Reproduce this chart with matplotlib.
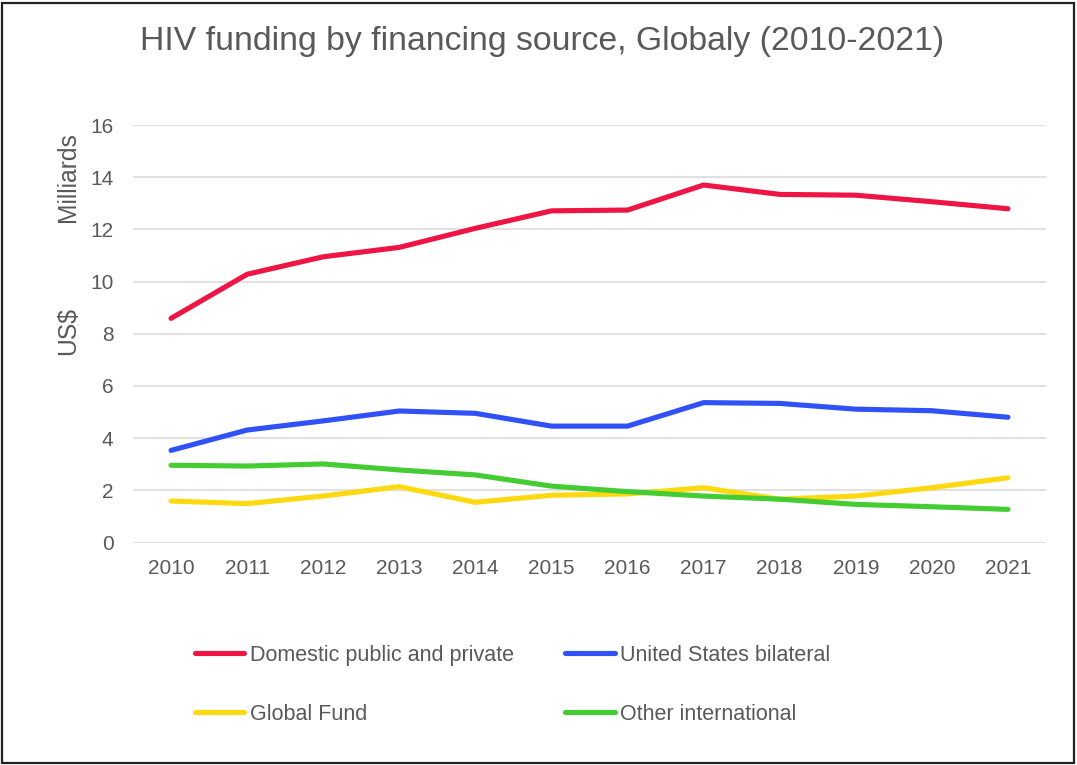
import matplotlib.pyplot as plt
from matplotlib.patches import Rectangle

# Financement VIH par source (milliards US$)
years = ['2010', '2011', '2012', '2013', '2014', '2015',
         '2016', '2017', '2018', '2019', '2020', '2021']
domestic = [8.59, 10.28, 10.95, 11.31, 12.04, 12.71, 12.74, 13.70, 13.34, 13.31, 13.06, 12.79]
us_bilateral = [3.53, 4.31, 4.66, 5.04, 4.95, 4.46, 4.46, 5.36, 5.33, 5.11, 5.05, 4.80]
global_fund = [1.59, 1.49, 1.78, 2.14, 1.54, 1.81, 1.86, 2.10, 1.66, 1.78, 2.10, 2.48]
other_intl = [2.96, 2.93, 3.01, 2.78, 2.59, 2.16, 1.95, 1.78, 1.66, 1.46, 1.37, 1.27]

series_labels = ['Domestic public and private', 'United States bilateral',
                 'Global Fund', 'Other international']
series_colors = ['#EE1443', '#3050F8', '#FFD90F', '#44CC33']

plt.rcParams['font.family'] = ['Liberation Sans', 'DejaVu Sans']
text_color = '#595959'

fig = plt.figure(figsize=(10.77, 7.65), dpi=100)
ax = fig.add_axes([133 / 1077, 1 - 542.5 / 765, 913 / 1077, 417.5 / 765])

x = list(range(len(years)))
lines = []
for values, label, color in zip([domestic, us_bilateral, global_fund, other_intl],
                                series_labels, series_colors):
    ln, = ax.plot(x, values, color=color, linewidth=3.7, label=label,
                  solid_capstyle='round', solid_joinstyle='round')
    lines.append(ln)

ax.set_xlim(-0.5, len(years) - 0.5)
ax.set_ylim(0, 16)
ax.set_yticks(range(0, 17, 2))
ax.set_xticks(x)
ax.set_xticklabels(years)
ax.grid(axis='y', color='#D9D9D9', linewidth=1.1)
ax.set_axisbelow(True)
for s in ax.spines.values():
    s.set_visible(False)
ax.tick_params(axis='y', length=0, pad=14, labelsize=15, labelcolor=text_color)
ax.tick_params(axis='x', length=0, pad=12, labelsize=15, labelcolor=text_color)

# Titre et libellés d'axe
fig.text(542 / 1077, 1 - 50 / 765, 'HIV funding by financing source, Globaly (2010-2021)',
         ha='center', va='baseline', fontsize=24.3, color=text_color)
fig.text(68 / 1077, 1 - 177 / 765, 'Milliards', rotation=90,
         ha='center', va='center', fontsize=17.8, color=text_color)
fig.text(68 / 1077, 1 - 331 / 765, 'US$', rotation=90,
         ha='center', va='center', fontsize=17.8, color=text_color)

# Légende sur deux colonnes (remplie colonne par colonne)
order = [0, 2, 1, 3]
leg = fig.legend(handles=[lines[i] for i in order],
                 labels=[series_labels[i] for i in order], ncol=2, frameon=False,
                 loc='upper left', bbox_to_anchor=(186 / 1077, 1 - 636 / 765),
                 fontsize=15.5, handlelength=2.3, handletextpad=0.25,
                 columnspacing=2.4, labelspacing=1.78, borderaxespad=0)
for t in leg.get_texts():
    t.set_color(text_color)

# Cadre autour du graphique
fig.patches.append(Rectangle((2 / 1077, 2 / 765), 1072 / 1077, 760 / 765,
                             transform=fig.transFigure, fill=False,
                             edgecolor='#222222', linewidth=1.6))

fig.savefig('out.png', dpi=100)
